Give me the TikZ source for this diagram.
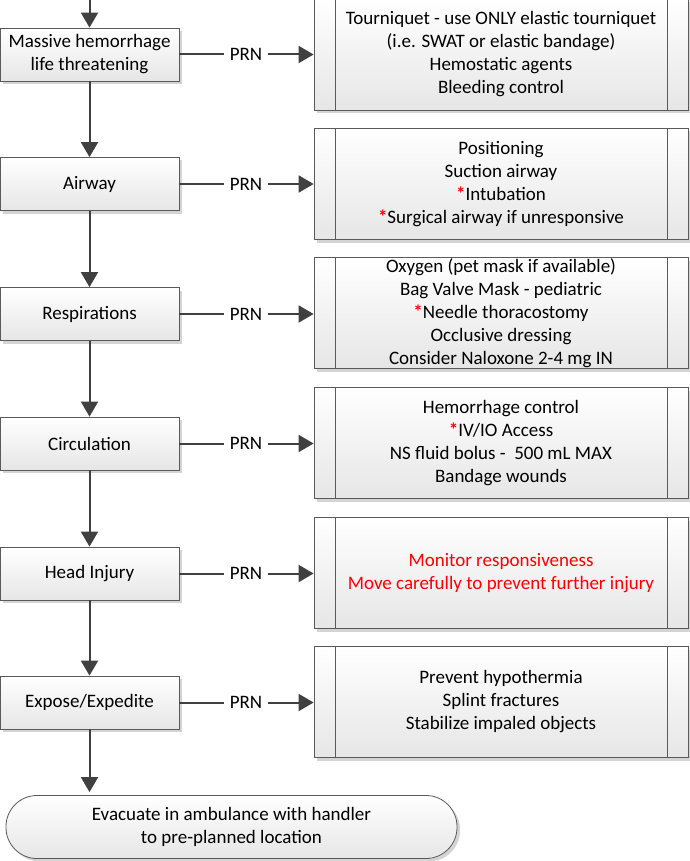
\documentclass[tikz,border=0pt]{standalone}
\usepackage{fontspec}
\setmainfont{Carlito}
\usetikzlibrary{arrows.meta,shadows}
\definecolor{boxc}{HTML}{5A5A5A}
\definecolor{arrc}{HTML}{404040}
\definecolor{shadc}{HTML}{D4D4D4}
\definecolor{botc}{HTML}{E6E6E6}
\definecolor{redc}{HTML}{FF0000}
\newcommand{\rs}{\textcolor{redc}{\textbf{*}}}
\begin{document}
\begin{tikzpicture}[x=1pt,y=-1pt,
  box/.style={draw=boxc, line width=0.8pt, top color=white, bottom color=botc,
    drop shadow={shadow xshift=3pt, shadow yshift=-3pt, fill=shadc, opacity=1},
    font=\fontsize{19}{23}\selectfont, align=center, inner sep=0pt},
  leftbox/.style={box, minimum width=179pt, minimum height=53pt},
  rightbox/.style={box, minimum width=374pt, minimum height=111pt},
  prn/.style={font=\fontsize{19}{20}\selectfont, inner sep=0pt, minimum width=44pt, minimum height=18pt},
  conn/.style={draw=arrc, line width=2pt},
  arr/.style={conn, -{Triangle[length=15pt,width=17pt]}},
]
\useasboundingbox (0,0) rectangle (689,861);

\coordinate (top) at (89.5,0);
\node[leftbox] (l1) at (89.5,54.5) {Massive hemorrhage\\life threatening};
\node[leftbox] (l2) at (89.5,184) {Airway};
\node[leftbox] (l3) at (89.5,314) {Respirations};
\node[leftbox] (l4) at (89.5,443.5) {Circulation};
\node[leftbox] (l5) at (89.5,573.5) {Head Injury};
\node[leftbox] (l6) at (89.5,702.5) {Expose/Expedite};

\node[rightbox] (r1) at (501,54.5) {Tourniquet - use ONLY elastic tourniquet\\(i.e. SWAT or elastic bandage)\\Hemostatic agents\\Bleeding control};
\node[rightbox] (r2) at (501,184) {Positioning\\Suction airway\\\rs Intubation\\\rs Surgical airway if unresponsive};
\node[rightbox] (r3) at (501,313) {Oxygen (pet mask if available)\\Bag Valve Mask - pediatric\\\rs Needle thoracostomy\\Occlusive dressing\\Consider Naloxone 2-4 mg IN};
\node[rightbox] (r4) at (501,443) {Hemorrhage control\\\rs IV/IO Access\\NS fluid bolus -\ \ 500 mL MAX\\Bandage wounds};
\node[rightbox, text=redc] (r5) at (501,573) {Monitor responsiveness\\Move carefully to prevent further injury};
\node[rightbox] (r6) at (501,702) {Prevent hypothermia\\Splint fractures\\Stabilize impaled objects};

\foreach \i in {1,...,6}{
  \draw[boxc, line width=0.8pt] ([xshift=22pt]r\i.north west) -- ([xshift=22pt]r\i.south west);
  \draw[boxc, line width=0.8pt] ([xshift=-21pt]r\i.north east) -- ([xshift=-21pt]r\i.south east);
}

\node[box, minimum width=451pt, minimum height=63pt, rounded corners=31pt] (term) at (231.5,827) {Evacuate in ambulance with handler\\to pre-planned location};

\foreach \i in {1,...,6}{
  \node[prn] (p\i) at (246,0 |- l\i.center) {PRN};
  \draw[conn] (l\i.east) -- (p\i.west);
  \draw[arr] (p\i.east) -- (r\i.west |- p\i.east);
}

\draw[arr] (top) -- (l1.north);
\draw[arr] (l1.south) -- (l2.north);
\draw[arr] (l2.south) -- (l3.north);
\draw[arr] (l3.south) -- (l4.north);
\draw[arr] (l4.south) -- (l5.north);
\draw[arr] (l5.south) -- (l6.north);
\draw[arr] (l6.south) -- ([yshift=3pt]l6.south |- term.north);
\end{tikzpicture}
\end{document}
